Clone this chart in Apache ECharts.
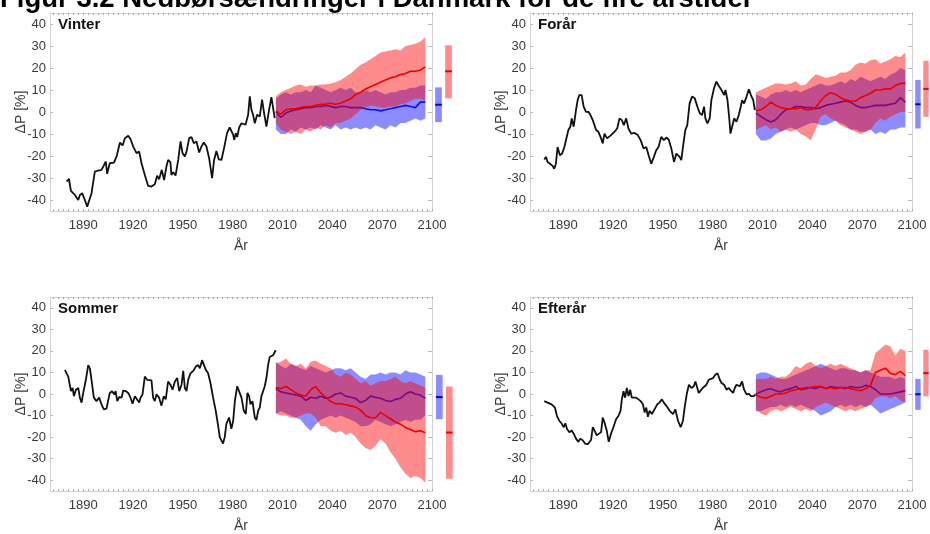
<!DOCTYPE html>
<html><head><meta charset="utf-8">
<script src="https://cdn.jsdelivr.net/npm/echarts@6/dist/echarts.min.js"></script>
<style>html,body{margin:0;padding:0;background:#fff}#c{width:930px;height:534px}</style>
</head><body><div id="c"></div>
<script>
// ---------------- DATA ----------------
const xTicks = [1890, 1920, 1950, 1980, 2010, 2040, 2070, 2100];
const yTicks = [-40, -30, -20, -10, 0, 10, 20, 30, 40];
const panelTitles = ['Vinter', 'Forår', 'Sommer', 'Efterår'];
const projYears = [2006,2009,2012,2015,2018,2021,2024,2027,2030,2033,2036,2039,2042,2045,2048,2051,2054,2057,2060,2063,2066,2069,2072,2075,2078,2081,2084,2087,2090,2093,2096];

// Vinter
const vinterHist = [[1880.0,-31.6],[1881.4,-30.4],[1882.6,-35.9],[1885.0,-37.7],[1887.0,-40],[1888.0,-37.7],[1889.4,-36.9],[1891.0,-40],[1892.4,-43],[1893.6,-43.3],[1895.0,-36.9],[1897.0,-27.1],[1899.0,-26.6],[1901.0,-26.3],[1902.4,-24.3],[1903.6,-22.5],[1904.4,-28.1],[1906.0,-23.3],[1908.5,-23],[1910.1,-20.2],[1912.1,-13.9],[1913.7,-15.2],[1915.1,-11.9],[1917.1,-10.8],[1918.5,-12.4],[1920.1,-15.7],[1922.1,-18.7],[1923.7,-18],[1925.1,-23.3],[1927.1,-28.6],[1929.1,-33.6],[1931.1,-33.9],[1933.1,-32.8],[1934.5,-29],[1935.7,-30.6],[1937.3,-26.3],[1938.7,-30.9],[1940.1,-24.8],[1941.1,-21.8],[1942.5,-22.8],[1943.1,-28.6],[1944.2,-27.4],[1945.6,-28.9],[1947.2,-21.8],[1948.6,-13.4],[1949.8,-18.7],[1951.2,-20.2],[1952.2,-18],[1953.8,-11.9],[1955.2,-11.4],[1956.6,-14.2],[1958.2,-13.4],[1959.8,-18.4],[1961.2,-15.7],[1962.6,-13.9],[1964.2,-15.7],[1965.8,-21],[1967.6,-30.1],[1968.8,-21.8],[1970.2,-17.7],[1971.6,-21.5],[1973.2,-21.8],[1974.8,-16.4],[1976.6,-9.6],[1978.2,-7],[1979.2,-6.6],[1980.3,-10.4],[1980.9,-12.7],[1981.9,-9.6],[1982.7,-11.4],[1983.9,-7],[1985.3,-5.1],[1986.3,-5.8],[1987.7,-5.8],[1989.3,-1.3],[1990.3,7.1],[1991.3,1],[1992.3,-1.3],[1993.3,-5.1],[1994.7,-1.3],[1996.3,-2],[1997.7,5.6],[1998.9,-0.5],[2000.3,-6.6],[2001.9,1],[2003.3,6.8],[2004.3,7.1],[2005.3,-2.8]];
const vinterRedMid = [0.5,-1,1,1.5,1.5,2,2.5,2.5,3,3.5,3.5,4,3.5,4,5,6,8,9,10.5,11.5,12.5,13.5,14.5,15.5,16,17,17.5,18.5,18.5,19,20.5];
const vinterRedLo = [-5,-8,-9,-10,-9,-10,-8,-9,-7,-8,-6,-7,-5,-5,-4,-3,-1,1,2,3,2.5,2,2,2.5,2.5,3.5,4,5,6,6,5];
const vinterRedHi = [7,9,10,11,12,12.5,11.5,12,12,12.5,12.5,13,13.5,14.5,16,17.5,19.5,21.5,22.5,24,25.5,27,27.5,28,28.5,28,30,30.5,31,32,34];
const vinterBlueMid = [0,-2.5,-0.5,0.5,1,1.5,2,2,2.5,2.5,3,2.5,2,2.5,2.5,2,2,2,1.5,1,1,0.5,1,1.5,2,2.5,3,2.5,2,4.5,4.5];
const vinterBlueLo = [-8,-10,-10,-8,-9,-7,-8,-7,-8,-6,-7,-8,-6,-8,-7,-8,-7,-8,-7,-8,-6,-7,-8,-6,-7,-5,-5,-4,-3,-4,-3];
const vinterBlueHi = [6,8,9,8,9,9,10,9,12,11,10,9,10,11,10,11,9,9,10,9,10,9,8,9,9,10,10,11,11,12,12];
const vinterBlueBar = [-4.6, 11.2, 3.3];   // low, high, mean
const vinterRedBar = [6.2, 30.3, 18.5];

// Forår
const foraarHist = [[1878.6,-21.6],[1879.6,-20.4],[1880.6,-22.7],[1882.0,-23.5],[1883.6,-24.5],[1884.6,-25.8],[1885.6,-23.5],[1886.6,-15.9],[1888.0,-19.7],[1889.3,-18.9],[1890.7,-15.9],[1891.7,-15.1],[1893.1,-8.2],[1894.3,-6.7],[1895.1,-2.9],[1896.3,-6.7],[1897.7,0.9],[1898.7,5.4],[1899.7,7.7],[1901.1,7.7],[1902.3,2.4],[1903.7,0.1],[1905.2,0.1],[1906.4,-1.4],[1907.8,-3.7],[1909.8,-8.2],[1911.2,-9],[1912.8,-12],[1913.8,-14.3],[1914.8,-9.8],[1916.4,-12],[1918.8,-10.5],[1920.8,-9],[1922.5,-7.5],[1923.9,-2.9],[1925.3,-3.7],[1926.5,-6],[1927.9,-2.9],[1929.3,-7.5],[1930.9,-9.8],[1932.9,-9.5],[1934.9,-10.5],[1936.6,-12.8],[1938.4,-16.6],[1940.0,-15.9],[1941.4,-19.7],[1943.0,-23.5],[1944.6,-20.4],[1946.0,-17.4],[1947.4,-15.9],[1949.0,-11.3],[1950.6,-12.8],[1952.1,-11.6],[1953.5,-12.5],[1955.1,-16.6],[1956.7,-22.7],[1958.1,-18.9],[1960.1,-20.4],[1961.1,-21.9],[1962.1,-15.9],[1963.5,-8.2],[1964.7,-6],[1966.1,3.9],[1967.6,7],[1969.2,6.2],[1970.8,2.4],[1972.2,-0.6],[1973.6,-1.4],[1974.8,2.4],[1975.6,-2.9],[1976.8,-5.2],[1978.2,-2.9],[1979.2,5.4],[1980.8,10.8],[1982.2,13.8],[1983.7,11.8],[1985.3,10],[1986.9,7.7],[1987.7,10],[1988.9,5.4],[1989.9,-2.2],[1990.7,-9.8],[1991.7,-6.7],[1992.9,-2.9],[1994.3,-4.4],[1995.7,-1.4],[1996.9,2.4],[1997.7,5.4],[1998.9,3.9],[2000.4,7],[2001.8,10.3],[2003.0,7.7],[2004.4,5.4],[2005.4,0.9]];
const foraarRedMid = [0.5,1,2.5,4.5,3,2,1.5,1.5,1.5,2,1,1,2,5,7.5,8.8,8,6.5,5.5,5,5,6.5,7.5,8.5,10,10,10.5,10.5,12,13,13];
const foraarRedLo = [-8,-7,-6,-8,-7,-9,-8,-9,-8,-10,-11,-13,-8,-2,-1,-3,-4,-6,-7,-8,-9,-10,-9,-8,-5,-3,-4,-2,-1,0,0];
const foraarRedHi = [9,10,11,12,13,13,12.5,13,14,12,12.5,15,17,16.5,15.5,16,16.5,18,18,19,21.5,22.5,22,23.5,24,22,23,24,25.5,25,27];
const foraarBlueMid = [-0.5,-2,-3.5,-4.5,-3.5,-1,1,1.5,2.5,2.5,2,2,1.5,2,3,3.5,4,4.5,5,4.5,3,2,2,2.5,3,3,3,3.5,4,6.5,4.5];
const foraarBlueLo = [-10,-13,-13,-12,-10,-9,-8,-7,-8,-7,-6,-5,-5,-6,-6,-5,-4,-5,-6,-8,-8,-9,-9,-8,-10,-9,-10,-8,-8,-7,-7];
const foraarBlueHi = [8,7,6,8,9,9,10,9,10,9,10,11,12,13,12,12,13,14,13,15,14,16,15,14,15,16,15,17,18,20,19];
const foraarBlueBar = [-7.5, 14.6, 3.5];
const foraarRedBar = [-2.2, 23.3, 10.5];

// Sommer
const sommerHist = [[1879.0,11.2],[1880.0,9.6],[1881.0,8.1],[1882.0,8.9],[1882.6,1.3],[1883.6,2.8],[1884.4,-1],[1885.6,2],[1887.0,2.8],[1888.0,-1.7],[1889.0,-4],[1890.0,0.5],[1891.6,6.6],[1893.0,13.4],[1894.0,11.9],[1895.0,6.6],[1896.4,-1.7],[1898.0,-3.3],[1899.6,-1.7],[1901.0,-4.8],[1902.4,-7.1],[1904.0,-6.8],[1905.0,-7.1],[1906.0,0.5],[1907.4,1.3],[1908.7,-0.2],[1909.5,1.3],[1910.5,-3.3],[1911.7,-1.4],[1913.1,-1.7],[1914.1,1.6],[1915.7,1.3],[1917.1,0.5],[1918.5,-1.7],[1919.7,-4.5],[1921.1,-1],[1922.1,-1.7],[1923.7,-4],[1924.5,-1.7],[1925.7,-0.2],[1927.1,8.1],[1928.5,6.6],[1929.7,5.8],[1931.1,6.3],[1932.1,-1.7],[1933.1,-3.3],[1934.1,-0.2],[1935.7,-1.7],[1937.1,-5.5],[1938.5,-1],[1939.7,-2.5],[1941.1,5.8],[1942.5,4.3],[1943.8,2],[1945.2,5.8],[1946.6,7.4],[1947.8,1.3],[1949.2,4.3],[1950.2,10.7],[1951.2,2.8],[1952.2,1.3],[1953.2,6.6],[1954.6,9.6],[1956.2,10.7],[1957.8,12.7],[1959.2,13.4],[1960.2,11.9],[1961.6,15.7],[1962.6,16.5],[1963.8,11.2],[1965.2,9.6],[1966.6,5.1],[1968.2,-1.7],[1969.8,-7.8],[1971.2,-14.6],[1972.2,-20],[1973.2,-21.5],[1974.2,-23],[1975.2,-20],[1976.2,-13.9],[1977.8,-10.9],[1979.2,-16.2],[1980.3,-12.4],[1981.3,-3.3],[1982.7,3.6],[1983.9,2.8],[1985.3,-1.7],[1986.7,-7.8],[1987.9,-9.3],[1988.9,0.5],[1989.9,-1],[1990.7,-4.8],[1991.9,-3.3],[1993.3,-10.9],[1994.3,-12.1],[1995.3,-7.8],[1996.3,-6.3],[1997.3,-1],[1998.3,-1],[1999.3,3.6],[2000.3,7.4],[2001.3,13.4],[2002.3,17.2],[2003.3,16.5],[2004.3,18],[2005.3,18.7],[2005.9,20.3]];
const sommerRedMid = [3,2.5,3.5,2,0.5,-0.5,-1,2,3.5,0.5,-1.5,-3.5,-4.5,-4.5,-5,-5.5,-6,-7.5,-10,-11,-11,-8.5,-10,-11.5,-13,-14,-15.5,-16.5,-17.5,-17,-18];
const sommerRedLo = [-9,-10,-10,-11,-11,-10,-9,-9,-11,-15,-15,-17,-18,-17,-19,-18,-20,-23,-25,-26,-24,-21,-23,-27,-30,-34,-37,-39,-38,-39,-41];
const sommerRedHi = [14,15,16.5,14,13,14,12,15,15.5,14,13,12,9,8,10,9,7,5,6,4,5,6,6,7,8,6,5,6,5,4,3];
const sommerBlueMid = [2.5,1,0.5,0,-0.5,-1,-3,-1.5,-2,-1,-2,-1.5,0,0.5,-1,-1.5,-2,-4,-3,-1,-1.5,-2,-3,-3.5,-2.5,-2,0,1,0,-0.5,-2];
const sommerBlueLo = [-9,-8,-9,-10,-11,-12,-15,-17,-14,-12,-11,-10,-11,-10,-11,-12,-13,-15,-15,-14,-12,-13,-14,-15,-14,-13,-12,-13,-12,-12,-10];
const sommerBlueHi = [15,13,12,14,13,12,11,13,12,11,10,11,12,12,11,12,10,8,7,9,9,10,9,10,10,9,11,10,10,9,8];
const sommerBlueBar = [-10.5, 9.6, -0.5];
const sommerRedBar = [-37.6, 4.3, -16.6];

// Efterår
const efteraarHist = [[1878.6,-3.3],[1879.6,-2.5],[1880.6,-4],[1881.6,-3.3],[1883.0,-4.8],[1884.0,-4],[1885.0,-6.3],[1886.2,-10.1],[1887.6,-12.4],[1889.0,-13.6],[1890.3,-15.4],[1891.3,-13.6],[1892.3,-16.2],[1893.7,-17.7],[1895.1,-16.9],[1896.3,-18.4],[1897.7,-20.7],[1899.1,-22.2],[1900.3,-20.7],[1901.7,-21.5],[1903.1,-23],[1904.8,-23.3],[1905.8,-23.8],[1906.8,-21.2],[1907.8,-15.4],[1908.8,-16.9],[1910.2,-19.2],[1911.4,-20],[1912.8,-17.7],[1913.8,-10.9],[1914.8,-13.1],[1916.2,-16.9],[1917.4,-22.2],[1918.8,-18.4],[1920.2,-15.4],[1921.9,-11.6],[1923.3,-10.1],[1924.5,-7.8],[1925.3,-2.5],[1926.3,1.3],[1927.3,-1.7],[1928.3,2.8],[1929.3,-1],[1930.3,2],[1931.3,-1.7],[1932.5,-1],[1933.9,-1.7],[1935.3,-2.5],[1936.6,-3.3],[1938.0,-4.8],[1939.0,-8.6],[1940.0,-6.3],[1941.0,-10.6],[1942.0,-7.8],[1943.4,-9.3],[1945.0,-7.1],[1946.6,-4.8],[1948.0,-4],[1949.4,-2.5],[1950.6,-4],[1952.1,-5.5],[1953.1,-4.8],[1954.1,-7.8],[1955.1,-7.1],[1956.1,-9.3],[1957.5,-7.1],[1959.1,-12.4],[1960.7,-15.4],[1962.1,-12.4],[1963.1,-6.3],[1964.5,0.5],[1965.7,4.3],[1967.2,2.8],[1968.6,3.6],[1969.6,5.8],[1970.6,5.1],[1971.6,0.5],[1972.8,1.3],[1974.0,2.8],[1974.8,3.6],[1976.2,4.3],[1977.6,6.6],[1978.8,7.1],[1980.2,7.4],[1981.6,8.9],[1982.9,9.6],[1984.3,6.6],[1985.3,5.1],[1986.9,4.3],[1988.3,2],[1989.7,2.8],[1990.9,1.6],[1992.3,0.5],[1993.3,2.8],[1994.3,4.3],[1995.3,5.1],[1996.3,3.6],[1997.7,5.8],[1998.9,2],[2000.4,-0.2],[2001.8,0.1],[2003.0,-1],[2003.8,-1.4],[2004.8,-1],[2005.8,-0.2]];
const efteraarRedMid = [-0.5,-1.5,-2,-1,0,0,0.5,1.5,2,2.5,3,3,3.5,3.5,2.5,3,2.5,3,3,2.5,2,1.5,2.5,4,10,11,12,9.5,9,10.5,8.5];
const efteraarRedLo = [-7,-9,-10,-8,-7,-8,-7,-6,-7,-8,-7,-8,-6,-5,-4,-5,-6,-7,-8,-7,-8,-7,-6,-5,-2,-1,-1,-2,-1,-3,-4];
const efteraarRedHi = [7,7,7,8,7,8,8,10,13,12,14,15,13,12,13,14,13,14,13,12,11,10,11,11,19,21,23,22,18,21,20];
const efteraarBlueMid = [0,1,2,2.5,1.5,1,2,2.5,3.5,2,2.5,3,2.5,3.5,2.5,3.5,3,3,2.5,3.5,3,3,4,3.5,2,0,0,0,0.5,1,1.5];
const efteraarBlueLo = [-8,-8,-7,-6,-6,-5,-6,-5,-6,-5,-6,-7,-8,-10,-9,-8,-6,-5,-6,-5,-6,-5,-6,-5,-7,-9,-8,-7,-6,-5,-4];
const efteraarBlueHi = [9,10,10,9,8,7,7,8,9,10,11,12,13,14,13,12,11,12,12,11,11,10,11,10,9,8,8,8,7,8,7];
const efteraarBlueBar = [-6.3, 7.8, 0.8];
const efteraarRedBar = [-0.2, 21.0, 10.4];

// ---------------- LAYOUT / STYLE ----------------
const FONT = '"Liberation Sans", Arial, sans-serif';
const panelData = [
  {hist: vinterHist, rMid: vinterRedMid, rLo: vinterRedLo, rHi: vinterRedHi, bMid: vinterBlueMid, bLo: vinterBlueLo, bHi: vinterBlueHi, bBar: vinterBlueBar, rBar: vinterRedBar},
  {hist: foraarHist, rMid: foraarRedMid, rLo: foraarRedLo, rHi: foraarRedHi, bMid: foraarBlueMid, bLo: foraarBlueLo, bHi: foraarBlueHi, bBar: foraarBlueBar, rBar: foraarRedBar},
  {hist: sommerHist, rMid: sommerRedMid, rLo: sommerRedLo, rHi: sommerRedHi, bMid: sommerBlueMid, bLo: sommerBlueLo, bHi: sommerBlueHi, bBar: sommerBlueBar, rBar: sommerRedBar},
  {hist: efteraarHist, rMid: efteraarRedMid, rLo: efteraarRedLo, rHi: efteraarRedHi, bMid: efteraarBlueMid, bLo: efteraarBlueLo, bHi: efteraarBlueHi, bBar: efteraarBlueBar, rBar: efteraarRedBar}
];
const panelPos = [
  {left: 50, top: 13, side: 433.5},
  {left: 530, top: 13, side: 913.9},
  {left: 50, top: 297, side: 434.3},
  {left: 530, top: 297, side: 913.9}
];
const GW = 382, GH = 198;
const minorX = [];
for (let v = 1872; v <= 2100; v += 3) minorX.push(v);

const BLUE_FILL = 'rgba(0,0,255,0.45)';
const RED_FILL = 'rgba(255,0,0,0.45)';
const FRAME = '#d2d2d2';

const zip = (xs, ys) => xs.map((x, i) => [x, ys[i]]);

const grids = [], xAxes = [], yAxes = [], series = [], titles = [];

titles.push({
  text: 'Figur 3.2 Nedbørsændringer i Danmark for de fire årstider',
  left: 0, top: -15, padding: 0,
  textStyle: {fontSize: 27.5, fontWeight: 'bold', color: '#000', fontFamily: FONT}
});

function barRenderer(fill, stroke) {
  return function (params, api) {
    const c = api.value(0);
    const pHi = api.coord([c, api.value(2)]);
    const pLo = api.coord([c, api.value(1)]);
    const pM = api.coord([c, api.value(3)]);
    const w = api.size([1, 0])[0] * 0.67;
    return {type: 'group', children: [
      {type: 'rect', shape: {x: pHi[0] - w / 2, y: pHi[1], width: w, height: pLo[1] - pHi[1]}, style: {fill: fill}},
      {type: 'line', shape: {x1: pHi[0] - w / 2, y1: pM[1], x2: pHi[0] + w / 2, y2: pM[1]}, style: {stroke: stroke, lineWidth: 2}}
    ]};
  };
}

function bandRenderer(years, lo, hi, fill) {
  return function (params, api) {
    if (params.dataIndex !== 0) return null;
    const top = years.map((y, i) => api.coord([y, hi[i]]));
    const bot = years.map((y, i) => api.coord([y, lo[i]])).reverse();
    return {type: 'polygon', shape: {points: top.concat(bot)}, style: {fill: fill}};
  };
}

const numFmt = v => String(v);

panelData.forEach((d, p) => {
  const pos = panelPos[p];
  grids.push({left: pos.left, top: pos.top, width: GW, height: GH});
  grids.push({left: pos.side, top: pos.top, width: 20, height: GH});
  const g = 2 * p;
  xAxes.push({
    type: 'value', gridIndex: g, min: 1870, max: 2100, position: 'bottom',
    axisLine: {show: true, onZero: false, lineStyle: {color: FRAME, width: 1}},
    axisTick: {show: true, inside: true, length: 2, customValues: minorX, lineStyle: {color: '#a8a8a8'}},
    axisLabel: {customValues: xTicks, formatter: numFmt, color: '#3a3a3a', fontSize: 13, margin: 8, fontFamily: FONT},
    splitLine: {show: false},
    name: 'År', nameLocation: 'middle', nameGap: 28, nameMoveOverlap: false,
    nameTextStyle: {color: '#3a3a3a', fontSize: 14, fontFamily: FONT}
  });
  xAxes.push({
    type: 'value', gridIndex: g, min: 1870, max: 2100, position: 'top',
    axisLine: {show: true, onZero: false, lineStyle: {color: FRAME, width: 1}},
    axisTick: {show: true, inside: true, length: 2, customValues: minorX, lineStyle: {color: '#a8a8a8'}},
    axisLabel: {show: false}, splitLine: {show: false}
  });
  xAxes.push({type: 'category', gridIndex: g + 1, data: ['scenarie B', 'scenarie A'], show: false});
  yAxes.push({
    type: 'value', gridIndex: g, min: -45, max: 45, position: 'left',
    axisLine: {show: true, onZero: false, lineStyle: {color: FRAME, width: 1}},
    axisTick: {show: true, inside: true, length: 3, customValues: yTicks, lineStyle: {color: '#b8b8b8'}},
    axisLabel: {customValues: yTicks, formatter: numFmt, color: '#3a3a3a', fontSize: 13, margin: 4, fontFamily: FONT},
    splitLine: {show: false},
    name: 'ΔP [%]', nameLocation: 'middle', nameGap: 22, nameRotate: 90, nameMoveOverlap: false,
    nameTextStyle: {color: '#3a3a3a', fontSize: 14, fontFamily: FONT}
  });
  yAxes.push({
    type: 'value', gridIndex: g, min: -45, max: 45, position: 'right',
    axisLine: {show: true, onZero: false, lineStyle: {color: FRAME, width: 1}},
    axisTick: {show: true, inside: true, length: 4, customValues: yTicks, lineStyle: {color: '#b8b8b8'}},
    axisLabel: {show: false}, splitLine: {show: false}
  });
  yAxes.push({type: 'value', gridIndex: g + 1, min: -45, max: 45, show: false});

  const xi = 3 * p, yi = 3 * p;
  const lineBase = {type: 'line', xAxisIndex: xi, yAxisIndex: yi, showSymbol: false, symbol: 'none', silent: true, animation: false};
  series.push({type: 'custom', xAxisIndex: xi, yAxisIndex: yi, silent: true, animation: false, z: 2,
    data: projYears.map((y, i) => [y, d.bLo[i], d.bHi[i]]),
    renderItem: bandRenderer(projYears, d.bLo, d.bHi, BLUE_FILL)});
  series.push(Object.assign({}, lineBase, {z: 3, data: zip(projYears, d.bMid), lineStyle: {color: '#1010e8', width: 1.6}}));
  series.push({type: 'custom', xAxisIndex: xi, yAxisIndex: yi, silent: true, animation: false, z: 4,
    data: projYears.map((y, i) => [y, d.rLo[i], d.rHi[i]]),
    renderItem: bandRenderer(projYears, d.rLo, d.rHi, RED_FILL)});
  series.push(Object.assign({}, lineBase, {z: 5, data: zip(projYears, d.rMid), lineStyle: {color: '#ee0000', width: 1.6}}));
  series.push(Object.assign({}, lineBase, {z: 6, data: d.hist, lineStyle: {color: '#111', width: 1.8}}));
  series.push({type: 'custom', xAxisIndex: xi + 2, yAxisIndex: yi + 2, silent: true, animation: false,
    data: [[0, d.bBar[0], d.bBar[1], d.bBar[2]]], renderItem: barRenderer(BLUE_FILL, '#0000e0')});
  series.push({type: 'custom', xAxisIndex: xi + 2, yAxisIndex: yi + 2, silent: true, animation: false,
    data: [[1, d.rBar[0], d.rBar[1], d.rBar[2]]], renderItem: barRenderer(RED_FILL, '#ee0000')});

  titles.push({
    text: panelTitles[p], left: pos.left + 8, top: pos.top + 4, padding: 0,
    textStyle: {fontSize: 15, fontWeight: 'bold', color: '#111', fontFamily: FONT}
  });
});

const chart = echarts.init(document.getElementById('c'), null, {renderer: 'canvas'});
chart.setOption({
  animation: false,
  backgroundColor: '#fff',
  title: titles,
  grid: grids,
  xAxis: xAxes,
  yAxis: yAxes,
  series: series
});
</script></body></html>
